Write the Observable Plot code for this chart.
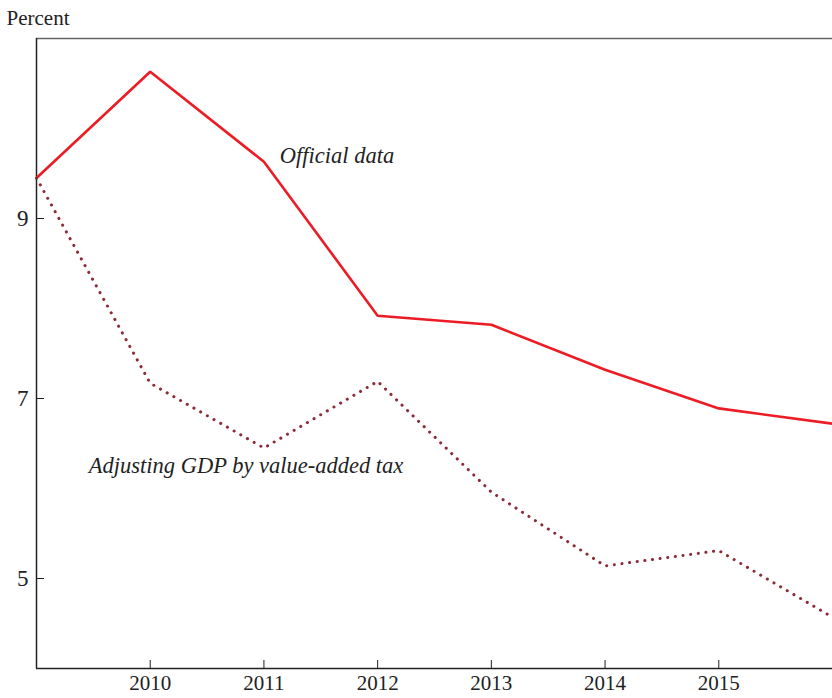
<!DOCTYPE html>
<html>
<head>
<meta charset="utf-8">
<script src="https://cdn.jsdelivr.net/npm/d3@7"></script>
<script src="https://cdn.jsdelivr.net/npm/@observablehq/plot@0.6"></script>
<style>
  html, body { margin: 0; padding: 0; background: #fff; }
  svg { display: block; }
</style>
</head>
<body>
<div id="chart"></div>
<script>
const years = [2009, 2010, 2011, 2012, 2013, 2014, 2015, 2016];
const official = [9.45, 10.63, 9.63, 7.92, 7.82, 7.32, 6.89, 6.72];
const adjusted = [9.45, 7.17, 6.45, 7.19, 5.96, 5.14, 5.31, 4.57];
const xTicks = [2010, 2011, 2012, 2013, 2014, 2015];
const yTicks = [5, 7, 9];
const labels = [
  {text: "Official data", x: 2011.14, y: 9.70},
  {text: "Adjusting GDP by value-added tax", x: 2009.46, y: 6.25}
];

const offData = years.map((y, i) => ({year: y, value: official[i]}));
const adjData = years.map((y, i) => ({year: y, value: adjusted[i]}));

const font = "'Liberation Serif', 'Times New Roman', serif";

const chart = Plot.plot({
  width: 832,
  height: 698,
  marginLeft: 36,
  marginRight: 0,
  marginTop: 38,
  marginBottom: 30,
  style: {fontFamily: font, fontSize: "21px", color: "#222", background: "#fff"},
  x: {domain: [2009, 2016]},
  y: {domain: [4, 11]},
  marks: [
    Plot.ruleY([11], {stroke: "#666", strokeWidth: 1.5}),
    Plot.ruleY([4], {stroke: "#222", strokeWidth: 1.5}),
    Plot.ruleX([2009], {stroke: "#222", strokeWidth: 1.5}),
    Plot.axisX({ticks: xTicks, tickFormat: d => String(d), tickSize: -8, tickPadding: 15, stroke: "#222", fontSize: 21, label: null}),
    Plot.axisY({ticks: yTicks, tickFormat: d => String(d), tickSize: -8, tickPadding: 16, stroke: "#222", fontSize: 23, label: null}),
    Plot.line(offData, {x: "year", y: "value", stroke: "#ec1c24", strokeWidth: 2.6}),
    Plot.line(adjData, {x: "year", y: "value", stroke: "#8c2a36", strokeWidth: 3, strokeDasharray: "0.1,7.6", strokeLinecap: "round"}),
    Plot.text(labels, {x: "x", y: "y", text: "text", textAnchor: "start", fontStyle: "italic", fontSize: 22.5, fill: "#222"}),
    Plot.text(["Percent"], {frameAnchor: "top-left", dx: -30, dy: -28, text: d => d, textAnchor: "start", fontSize: 21, fill: "#222"})
  ]
});
document.getElementById("chart").appendChild(chart);
</script>
</body>
</html>
